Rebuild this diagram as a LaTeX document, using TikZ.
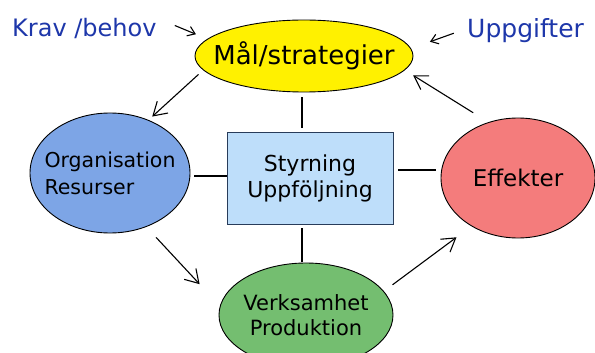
\documentclass[tikz,border=0pt]{standalone}
\usepackage{fontspec}
\setmainfont{DejaVu Sans}
\usetikzlibrary{shapes.geometric,arrows.meta,calc}
\definecolor{yel}{RGB}{255,241,0}
\definecolor{orgblue}{RGB}{125,165,230}
\definecolor{boxblue}{RGB}{190,222,250}
\definecolor{boxedge}{RGB}{40,60,90}
\definecolor{redc}{RGB}{244,124,124}
\definecolor{greenc}{RGB}{116,190,112}
\definecolor{lblblue}{RGB}{30,55,170}
\begin{document}
\begin{tikzpicture}[x=1pt,y=-1pt,
  ell/.style={ellipse, draw=black, line width=0.9pt, inner sep=0pt},
  conn/.style={line width=1.1pt},
  arr/.style={conn, -{Straight Barb[length=13pt,width=16pt]}},
  smallarr/.style={conn, -{Straight Barb[length=7pt,width=10pt]}},
  lbl/.style={anchor=west, inner sep=0pt, text=lblblue}]
\clip (0,0) rectangle (595,353);
\fill[white] (0,0) rectangle (595,353);

\node[ell, fill=yel, minimum width=218pt, minimum height=72pt,
  label={[font=\fontsize{26}{30}\selectfont]center:{Mål/strategier}}] (mal) at (304,56) {};
\node[ell, fill=orgblue, minimum width=160pt, minimum height=120pt,
  label={[align=left, font=\fontsize{20.5}{27}\selectfont]center:{Organisation\\Resurser}}] (org) at (110,173) {};
\node[draw=boxedge, line width=0.9pt, fill=boxblue, minimum width=166pt, minimum height=92pt,
  align=center, font=\fontsize{22}{26}\selectfont] (styr) at (310,178) {Styrning\\Uppföljning};
\node[ell, fill=redc, minimum width=154pt, minimum height=120pt,
  label={[font=\fontsize{23}{27}\selectfont]center:{Effekter}}] (eff) at (518,178) {};
\node[ell, fill=greenc, minimum width=174pt, minimum height=104pt,
  label={[align=center, font=\fontsize{21}{25}\selectfont]center:{Verksamhet\\Produktion}}] (verk) at (306,315) {};

\node[lbl, font=\fontsize{24}{28}\selectfont] (krav) at (12,28) {Krav /behov};
\node[lbl, font=\fontsize{25}{28}\selectfont] (uppg) at (467,30.5) {Uppgifter};

% plain connectors
\coordinate (ct) at ([xshift=-8pt]styr.north);
\draw[conn, shorten <=4pt, shorten >=5pt] (ct) -- (ct |- mal.south);
\coordinate (cb) at ([xshift=-8pt]styr.south);
\draw[conn, shorten <=4pt, shorten >=1pt] (cb) -- (cb |- verk.north);
\coordinate (cl) at ([yshift=2pt]styr.west);
\draw[conn, shorten >=4pt] (cl) -- (cl -| org.east);
\coordinate (cr) at ([yshift=8pt]styr.east);
\draw[conn, shorten <=5pt, shorten >=5pt] (cr) -- (cr -| eff.west);

% arrows of the cycle
\draw[arr, shorten <=6.3pt, shorten >=5pt] (mal.188.5) -- (org.54.1);
\draw[arr, shorten <=14.3pt, shorten >=29.7pt] (org.304.2) -- (verk.174.6);
\draw[arr, shorten <=10.7pt, shorten >=18.5pt] (verk.17) -- (eff.226.2);
\draw[arr, shorten <=17.8pt, shorten >=9.7pt] (eff.118.7) -- (mal.352.9);

% input arrows
\draw[smallarr, shorten <=19.6pt, shorten >=12.3pt] ([yshift=10pt]krav.east) -- (mal.170.8);
\draw[smallarr, shorten <=14pt, shorten >=20pt] ([yshift=2pt]uppg.west) -- (mal.4.3);
\end{tikzpicture}
\end{document}
